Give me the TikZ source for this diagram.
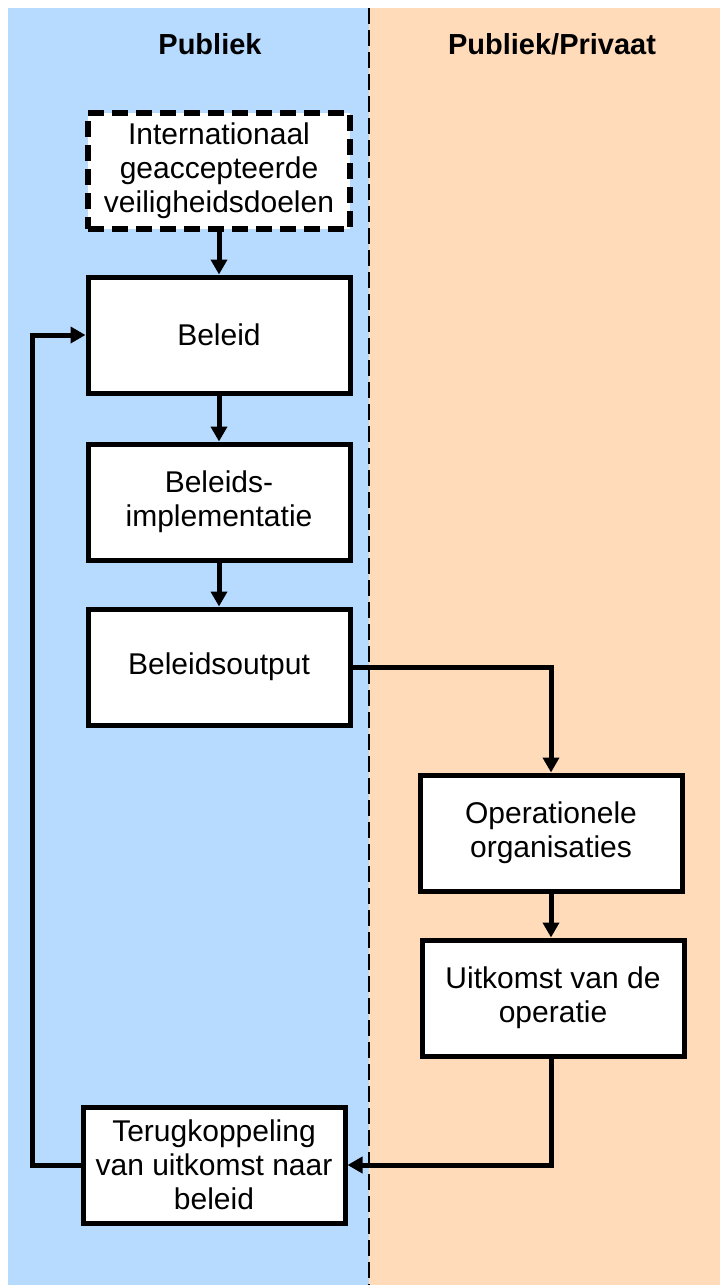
\documentclass[tikz,border=0pt]{standalone}
\usepackage{fontspec}
\setmainfont{Liberation Sans}
\usetikzlibrary{arrows.meta,positioning}
\definecolor{publiekblue}{RGB}{183,218,255}
\definecolor{privaatpeach}{RGB}{255,219,185}

\begin{document}
\begin{tikzpicture}[x=1pt,y=-1pt,
        box/.style = {draw, line width=5pt, fill=white, minimum width=262pt, minimum height=116pt, align=center, font=\fontsize{30}{34}\selectfont},
        dashbox/.style = {box, line width=6pt, dash pattern=on 16pt off 8pt},
        head/.style = {font=\fontsize{29}{34}\selectfont\bfseries},
        arr/.style = {line width=5pt, -{Triangle[width=16pt,length=15pt]}}]
                \useasboundingbox (0,0) rectangle (720,1285);
                \fill[publiekblue] (8,8) rectangle (369,1285);
                \fill[privaatpeach] (369,8) rectangle (720,1285);
                \draw[line width=2.5pt, dash pattern=on 16pt off 6pt] (369,8) -- (369,1285);

                \node[head](publiek) at (210,44){Publiek};
                \node[head](privaat) at (552,44){Publiek/Privaat};

                \node[dashbox](doelen) at (219,171){Internationaal\\geaccepteerde\\veiligheidsdoelen};
                \node[box](beleid) at (219,335){Beleid};
                \node[box](impl) at (219,502){Beleids-\\implementatie};
                \node[box](output) at (219,667){Beleidsoutput};
                \node[box](oper) at (551,833){Operationele\\organisaties};
                \node[box](uitkomst) at (553,998){Uitkomst van de\\operatie};
                \node[box](terug) at (214,1165){Terugkoppeling\\van uitkomst naar\\beleid};

                \draw[arr] (doelen) -- (beleid);
                \draw[arr] (beleid) -- (impl);
                \draw[arr] (impl) -- (output);
                \draw[arr] (output.east) -| (oper.north);
                \draw[arr] (oper) -- (oper |- uitkomst.north);
                \draw[arr] (uitkomst.south -| oper) |- (terug.east);
                \draw[arr] (terug.west) -- ++(-48,0) |- (beleid.west);
            \end{tikzpicture}
\end{document}
